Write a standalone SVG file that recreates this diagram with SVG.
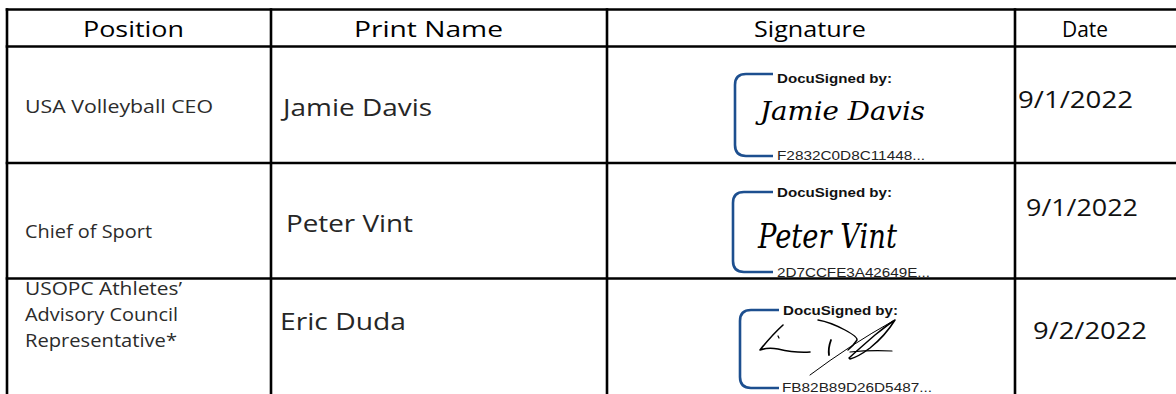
<svg xmlns="http://www.w3.org/2000/svg" width="1176" height="394" viewBox="0 0 1176 394">
<style>
.grid line{stroke:#000;stroke-width:2.6;stroke-linecap:square}
.hd{font-family:"Open Sans","Liberation Sans",sans-serif;font-size:22.5px;fill:#000}
.pos{font-family:"Open Sans","Liberation Sans",sans-serif;font-size:17.5px;fill:#2b2b2b}
.nm{font-family:"Open Sans","Liberation Sans",sans-serif;font-size:24.5px;fill:#262626}
.dt{font-family:"Open Sans","Liberation Sans",sans-serif;font-size:23.5px;fill:#111}
.br{fill:none;stroke:#1d4f8f;stroke-width:2.6}
.ds{font-family:"Liberation Sans",Arial,sans-serif;font-size:13px;font-weight:bold;fill:#111}
.hs{font-family:"Liberation Sans",Arial,sans-serif;font-size:12.5px;fill:#222}
.hw{font-family:"DejaVu Serif","Liberation Serif",serif;font-style:italic;font-weight:200;fill:#000}
.sc{fill:none;stroke:#000;stroke-linecap:round;stroke-linejoin:round}
</style>
<rect width="1176" height="394" fill="#fff"/>
<g id="grid" class="grid">
<line x1="7" y1="9.5" x2="1176" y2="9.5"/>
<line x1="7" y1="46.5" x2="1176" y2="46.5"/>
<line x1="7" y1="163" x2="1176" y2="163"/>
<line x1="7" y1="278.5" x2="1176" y2="278.5"/>
<line x1="7" y1="9.5" x2="7" y2="394"/>
<line x1="271" y1="9.5" x2="271" y2="394"/>
<line x1="607" y1="9.5" x2="607" y2="394"/>
<line x1="1015" y1="9.5" x2="1015" y2="394"/>
</g>
<g id="header">
<text class="hd" x="83" y="37" textLength="101" lengthAdjust="spacingAndGlyphs">Position</text>
<text class="hd" x="354" y="37" textLength="149" lengthAdjust="spacingAndGlyphs">Print Name</text>
<text class="hd" x="754" y="37" textLength="112" lengthAdjust="spacingAndGlyphs">Signature</text>
<text class="hd" x="1062" y="37" textLength="46" lengthAdjust="spacingAndGlyphs">Date</text>
</g>
<g id="row1">
<text class="pos" x="25" y="113" textLength="188" lengthAdjust="spacingAndGlyphs">USA Volleyball CEO</text>
<text class="nm" x="283" y="116" textLength="149" lengthAdjust="spacingAndGlyphs">Jamie Davis</text>
<g id="sig1">
<path class="br" d="M773 74H746Q735 74 735 85V145Q735 156 746 156H773"/>
<text class="ds" x="777" y="83" textLength="115" lengthAdjust="spacingAndGlyphs">DocuSigned by:</text>
<text class="hw" x="760" y="120" font-size="26" textLength="165" lengthAdjust="spacingAndGlyphs">Jamie Davis</text>
<text class="hs" x="777" y="160" textLength="148" lengthAdjust="spacingAndGlyphs">F2832C0D8C11448...</text>
</g>
<text class="dt" x="1018" y="108" textLength="115" lengthAdjust="spacingAndGlyphs">9/1/2022</text>
</g>
<g id="row2">
<text class="pos" x="25" y="238" textLength="127" lengthAdjust="spacingAndGlyphs">Chief of Sport</text>
<text class="nm" x="286" y="232" textLength="127" lengthAdjust="spacingAndGlyphs">Peter Vint</text>
<g id="sig2">
<path class="br" d="M773 192H744Q733 192 733 203V261Q733 272 744 272H773"/>
<text class="ds" x="777" y="197" textLength="115" lengthAdjust="spacingAndGlyphs">DocuSigned by:</text>
<text class="hw" x="758" y="248" font-size="34" textLength="139" lengthAdjust="spacingAndGlyphs">Peter Vint</text>
<text class="hs" x="777" y="277" textLength="153" lengthAdjust="spacingAndGlyphs">2D7CCFE3A42649E...</text>
</g>
<text class="dt" x="1026" y="216" textLength="112" lengthAdjust="spacingAndGlyphs">9/1/2022</text>
</g>
<g id="row3">
<text class="pos" x="25" y="295" textLength="157" lengthAdjust="spacingAndGlyphs">USOPC Athletes’</text>
<text class="pos" x="25" y="321" textLength="153" lengthAdjust="spacingAndGlyphs">Advisory Council</text>
<text class="pos" x="25" y="347" textLength="152" lengthAdjust="spacingAndGlyphs">Representative*</text>
<text class="nm" x="280" y="330" textLength="126" lengthAdjust="spacingAndGlyphs">Eric Duda</text>
<g id="sig3">
<path class="br" d="M779 310H751Q740 310 740 321V377Q740 388 751 388H779"/>
<text class="ds" x="783" y="315" textLength="115" lengthAdjust="spacingAndGlyphs">DocuSigned by:</text>
<path class="sc" stroke-width="1.6" d="M783 325Q772 335 760 350Q768 347 778 349Q795 353 810 352"/>
<path class="sc" stroke-width="1.2" d="M778 336L779 338"/>
<path class="sc" stroke-width="1.8" d="M831 340Q828 348 829 355"/>
<path class="sc" stroke-width="1.4" d="M818 320Q830 322 845 330Q858 337 857 340Q853 346 848 350"/>
<path class="sc" stroke-width="1" d="M810 375Q850 345 893 321"/>
<path class="sc" stroke-width="1.5" d="M849 358Q860 348 875 335Q890 323 895 320Q885 336 870 348Q858 357 850 359Z"/>
<path class="sc" stroke-width="1.2" d="M850 352Q870 350 892 351"/>
<text class="hs" x="782" y="392" textLength="150" lengthAdjust="spacingAndGlyphs">FB82B89D26D5487...</text>
</g>
<text class="dt" x="1033" y="339" textLength="114" lengthAdjust="spacingAndGlyphs">9/2/2022</text>
</g>
</svg>
